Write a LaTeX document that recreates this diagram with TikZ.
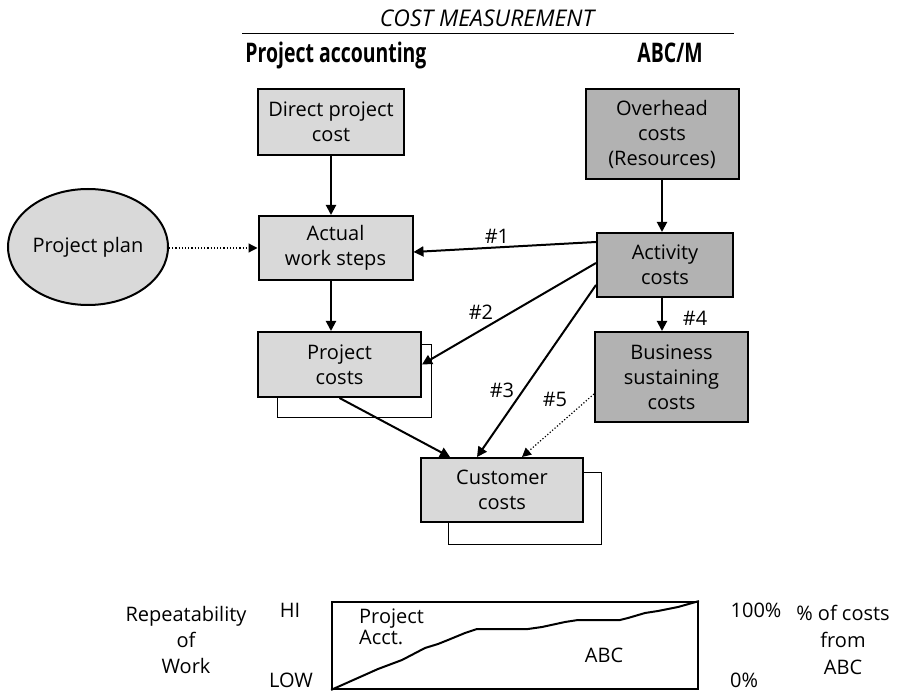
\documentclass[tikz,border=0pt]{standalone}
\usepackage{fontspec}
\setmainfont{Open Sans}
\newfontfamily\headfont[FakeStretch=0.72]{Open Sans}
\usetikzlibrary{arrows.meta,calc,shapes.geometric}
\definecolor{lightbox}{RGB}{217,217,217}
\definecolor{darkbox}{RGB}{178,178,178}
\begin{document}
\begin{tikzpicture}[x=1pt,y=-1pt,
  txt/.style={font=\fontsize{20}{25}\selectfont,inner sep=0pt,align=center},
  box/.style={txt,draw,line width=2pt,fill=lightbox},
  dbox/.style={box,fill=darkbox},
  backbox/.style={draw,line width=1pt,fill=white,inner sep=0pt},
  arr/.style={line width=2pt,-{Triangle[length=10pt,width=10pt]}},
  dotarr/.style={line width=1.2pt,dotted,-{Triangle[length=9pt,width=9pt]}},
  lbl/.style={font=\fontsize{20}{25}\selectfont,inner sep=0pt},
  head/.style={font=\headfont\bfseries\fontsize{27}{30}\selectfont,inner sep=0pt,anchor=base}
]
\useasboundingbox (0,0) rectangle (905,692);

% titles
\node[font=\itshape\fontsize{23}{26}\selectfont,inner sep=0pt,anchor=base] (title) at (487,27) {COST MEASUREMENT};
\coordinate (tl) at (242,33.5);
\coordinate (tr) at (734,33.5);
\draw[line width=1.2pt] (tl) -- (tr);
\node[head] (hpa) at (336,63) {Project accounting};
\node[head] (habc) at (670,63) {ABC/M};

% back boxes
\node[backbox,minimum width=154,minimum height=73] (projback) at (354,381.5) {};
\node[backbox,minimum width=153,minimum height=72] (custback) at (524.5,508) {};

% boxes
\node[box,minimum width=146,minimum height=66] (direct) at (331,122) {Direct project\\cost};
\node[box,minimum width=154,minimum height=64] (actual) at (335.5,248) {Actual\\work steps};
\node[box,minimum width=163,minimum height=65] (projcost) at (339.5,364.5) {Project\\costs};
\node[box,minimum width=162,minimum height=64] (customer) at (502,490) {Customer\\costs};
\node[dbox,minimum width=153,minimum height=90] (overhead) at (662,134) {Overhead\\costs\\(Resources)};
\node[dbox,minimum width=136,minimum height=64] (activity) at (665,265) {Activity\\costs};
\node[dbox,minimum width=153,minimum height=90] (business) at (671.5,377) {Business\\sustaining\\costs};
\node[txt,draw,line width=2pt,fill=lightbox,ellipse,minimum width=160,minimum height=116] (plan) at (88,247) {Project plan};

% connectors
\draw[arr] (direct.south) -- (direct.south |- actual.north);
\draw[arr] (direct.south |- actual.south) -- (direct.south |- projcost.north);
\draw[arr] (overhead.south) -- (overhead.south |- activity.north);
\draw[arr] (overhead.south |- activity.south) -- (overhead.south |- business.north);
\draw[dotarr] (plan.east |- actual) -- (actual.west);
\draw[arr] ($(activity.north west)+(0,10)$) -- ($(actual.east)+(0,4)$);
\draw[arr] ($(activity.west)+(0,-2)$) -- (projcost.east);
\draw[arr] ($(activity.west)+(0,20)$) -- ($(customer.north)+(-25,0)$);
\draw[arr] (projcost.south) -- ($(customer.north)+(-52,0)$);
\draw[dotarr] ($(business.west)+(0,17)$) -- ($(customer.north)+(20,0)$);

% labels
\node[lbl] (l1) at (497,236) {\#1};
\node[lbl] (l2) at (481,312) {\#2};
\node[lbl] (l3) at (502,390) {\#3};
\node[lbl] (l4) at (695,318) {\#4};
\node[lbl] (l5) at (555,399) {\#5};

% chart
\node[draw,line width=1.8pt,minimum width=366,minimum height=87,inner sep=0pt] (chart) at (515,645.5) {};
\draw[line width=2pt,line join=round] (chart.south west) -- (378,669) -- (402,660) -- (425,648) -- (438,644) -- (448,640) -- (465,633) -- (477,629) -- (528,629) -- (542,627) -- (565,622) -- (578,620) -- (620,620) -- (628,618) -- (645,613) -- (658,611) -- (678,607) -- (chart.north east);
\node[txt,align=left,font=\fontsize{20}{21}\selectfont,anchor=north west] (pacct) at (359,609) {Project\\Acct.};
\node[txt] (abc) at (604,655) {ABC};
\node[txt,font=\fontsize{20}{26}\selectfont] (rep) at (186,640) {Repeatability\\of\\Work};
\node[txt] (hi) at (290,610) {HI};
\node[txt] (low) at (291,680) {LOW};
\node[txt] (p100) at (756,610) {100\%};
\node[txt,anchor=west] (p0) at (730,680) {0\%};
\node[txt,font=\fontsize{20}{27}\selectfont] (pct) at (843,640) {\% of costs\\from\\ABC};
\end{tikzpicture}
\end{document}
